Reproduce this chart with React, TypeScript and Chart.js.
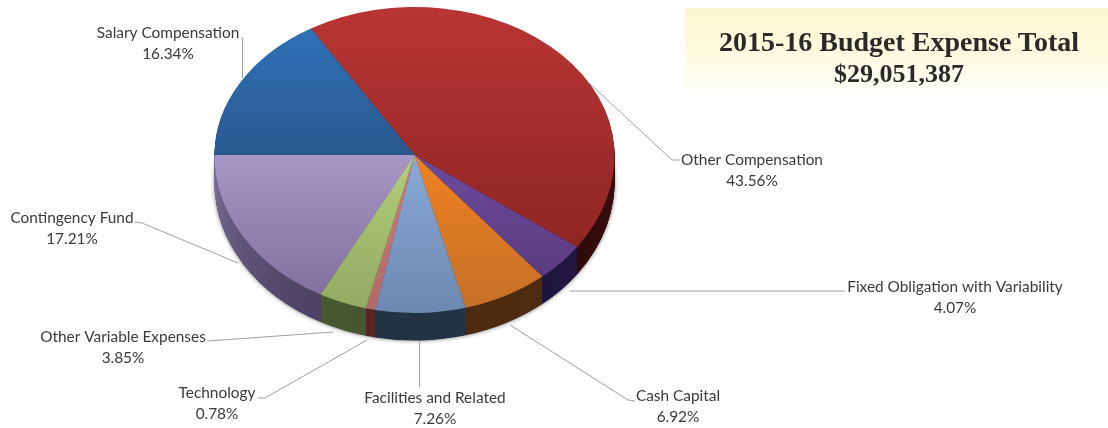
import React, { useEffect, useRef } from "react";
import { Chart, registerables } from "chart.js";

Chart.register(...registerables);

const categories = [
  "Other Compensation",
  "Fixed Obligation with Variability",
  "Cash Capital",
  "Facilities and Related",
  "Technology",
  "Other Variable Expenses",
  "Contingency Fund",
  "Salary Compensation",
];
const shares = [43.56, 4.07, 6.92, 7.26, 0.78, 3.85, 17.21, 16.34];

const topLight = ["#b93534", "#6c4a9e", "#f0811f", "#8aa9da", "#cf7f7c", "#b2cd7a", "#a896c6", "#3071b8"];
const topDark = ["#8f2624", "#5d3b7f", "#c67029", "#6d88b0", "#b06a68", "#93aa62", "#84709e", "#29598e"];
const wallLight = ["#4a1211", "#2a1c55", "#5c3512", "#2b3b50", "#6a2a2a", "#53683a", "#7c6f96", "#1f3c60"];
const wallDark = ["#300a0a", "#1f163d", "#4c2a10", "#243245", "#5a2426", "#465730", "#4c4064", "#1f3c60"];

// Layout of the drawing (not data)
const W = 1108;
const H = 428;
const CX = 414.5;
const CY = 155;
const R = 155;
const RX = 200;
const RY_UP = 148;
const RY_DOWN = 158;
const DEPTH = 27;
const ROTATION = -31.2;
const FONT = '15.4px Lato, "Noto Sans", sans-serif';

const labelLayout = [
  { x: 752, y: 160, line: [[588, 82], [672, 160], [680, 160]] },
  { x: 955, y: 287, line: [[570, 291], [845, 291]] },
  { x: 678, y: 396, line: [[510, 325], [628, 400], [635, 401]] },
  { x: 435, y: 398, line: [[419.5, 342], [419.5, 387]] },
  { x: 217, y: 393, line: [[258, 398], [265, 398], [367, 340]] },
  { x: 123, y: 337, line: [[208, 341], [333, 332]] },
  { x: 72, y: 218, line: [[135, 222], [142, 223], [238, 263]] },
  { x: 168, y: 33, line: [[241, 38], [242.5, 38], [242.5, 78]] },
];

function yRange(startAngle: number, endAngle: number) {
  let lo = Math.min(Math.sin(startAngle), Math.sin(endAngle), 0);
  let hi = Math.max(Math.sin(startAngle), Math.sin(endAngle), 0);
  const tau = Math.PI * 2;
  for (let k = -2; k <= 2; k++) {
    const up = -Math.PI / 2 + k * tau;
    const down = Math.PI / 2 + k * tau;
    if (startAngle <= up && up <= endAngle) lo = -1;
    if (startAngle <= down && down <= endAngle) hi = 1;
  }
  return [CY + lo * R, CY + hi * R];
}

function paint(ctx: CanvasRenderingContext2D, arc: any, light: string, dark: string) {
  const [y0, y1] = yRange(arc.startAngle, arc.endAngle);
  const g = ctx.createLinearGradient(0, y0, 0, y1);
  g.addColorStop(0, light);
  g.addColorStop(1, dark);
  const saved = arc.options;
  arc.options = { ...saved, backgroundColor: g, borderWidth: 0 };
  arc.draw(ctx);
  arc.options = saved;
}

function layer(ctx: CanvasRenderingContext2D, d: number, fn: () => void) {
  ctx.save();
  ctx.beginPath();
  ctx.rect(0, 0, W, CY + d);
  ctx.clip();
  ctx.translate(CX, CY + d);
  ctx.scale(RX / R, RY_UP / R);
  ctx.translate(-CX, -CY);
  fn();
  ctx.restore();
  ctx.save();
  ctx.beginPath();
  ctx.rect(0, CY + d, W, H);
  ctx.clip();
  ctx.translate(CX, CY + d);
  ctx.scale(RX / R, RY_DOWN / R);
  ctx.translate(-CX, -CY);
  fn();
  ctx.restore();
}

const pie3d = {
  id: "pie3d",
  beforeDatasetDraw() {
    return false;
  },
  afterDatasetsDraw(chart: any) {
    const ctx: CanvasRenderingContext2D = chart.ctx;
    const arcs = chart.getDatasetMeta(0).data;
    // soft shadow beneath the disc
    ctx.save();
    ctx.shadowColor = "rgba(0,0,0,0.55)";
    ctx.shadowBlur = 4;
    layer(ctx, DEPTH + 0.5, () => arcs.forEach((a: any, i: number) => paint(ctx, a, wallDark[i], wallDark[i])));
    ctx.restore();
    for (let d = DEPTH; d >= 1; d--) {
      layer(ctx, d, () => arcs.forEach((a: any, i: number) => paint(ctx, a, wallLight[i], wallDark[i])));
    }
    layer(ctx, 0, () => arcs.forEach((a: any, i: number) => paint(ctx, a, topLight[i], topDark[i])));

    // leader lines and labels
    ctx.save();
    ctx.strokeStyle = "#a0a0a0";
    ctx.lineWidth = 1;
    labelLayout.forEach((l) => {
      ctx.beginPath();
      l.line.forEach((p, j) => (j ? ctx.lineTo(p[0], p[1]) : ctx.moveTo(p[0], p[1])));
      ctx.stroke();
    });
    ctx.fillStyle = "#3a3a3a";
    ctx.font = FONT;
    ctx.textAlign = "center";
    ctx.textBaseline = "middle";
    labelLayout.forEach((l, i) => {
      ctx.fillText(categories[i], l.x, l.y);
      ctx.fillText(shares[i].toFixed(2) + "%", l.x, l.y + 21);
    });
    ctx.restore();
  },
};

export default function App() {
  const ref = useRef<HTMLCanvasElement>(null);
  useEffect(() => {
    const chart = new Chart(ref.current as HTMLCanvasElement, {
      type: "pie",
      data: {
        labels: categories,
        datasets: [{ data: shares, backgroundColor: topLight, borderWidth: 0 }],
      },
      options: {
        responsive: false,
        animation: false,
        rotation: ROTATION,
        radius: R,
        layout: { padding: { left: 0, top: 0, right: W - 2 * CX, bottom: H - 2 * CY } },
        plugins: { legend: { display: false }, tooltip: { enabled: false }, title: { display: false } },
      },
      plugins: [pie3d],
    } as any);
    return () => chart.destroy();
  }, []);
  return (
    <div style={{ position: "absolute", left: 0, top: 0, width: W, height: H, background: "#fff", overflow: "hidden", filter: "blur(0.4px)" }}>
      <div
        style={{
          position: "absolute",
          left: 685,
          top: 8,
          width: 423,
          height: 94,
          background: "linear-gradient(180deg, #fdf8cf 0%, #fefbe4 55%, #ffffff 100%)",
        }}
      />
      <canvas ref={ref} width={W} height={H} style={{ position: "absolute", left: 0, top: 0, width: W, height: H }} />
      <div
        style={{
          position: "absolute",
          left: 685,
          top: 26,
          width: 428,
          textAlign: "center",
          fontFamily: '"Liberation Serif", serif',
          fontWeight: "bold",
          fontSize: 28,
          lineHeight: "31px",
          color: "#2a2a2a",
        }}
      >
        2015-16 Budget Expense Total
        <br />
        <span style={{ fontSize: 26 }}>$29,051,387</span>
      </div>
    </div>
  );
}
